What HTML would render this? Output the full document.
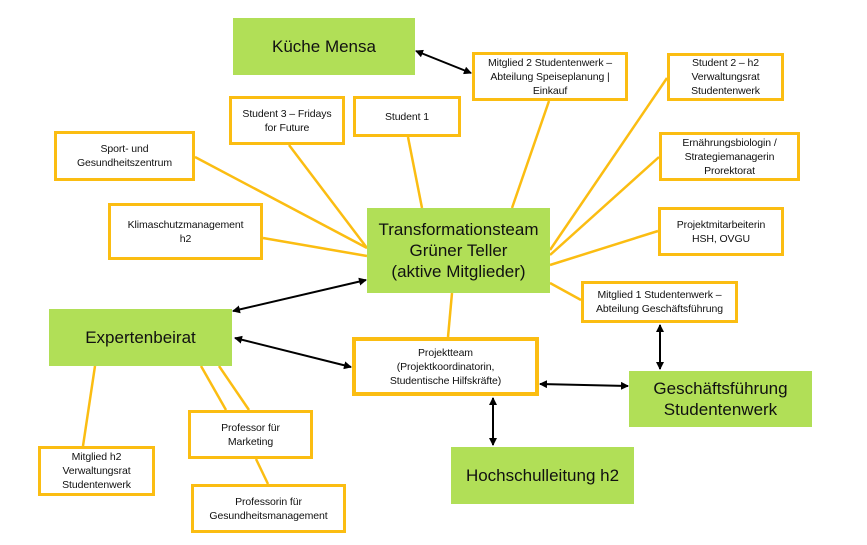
<!DOCTYPE html>
<html><head><meta charset="utf-8"><style>
body{margin:0;background:#fff;}
.b{position:absolute;display:flex;align-items:center;justify-content:center;text-align:center;font-family:"Liberation Sans",sans-serif;box-sizing:border-box;color:#111;}
.g{background:#b1df57;font-size:17px;line-height:21px;}
.y{background:#fff;border:3px solid #fbbd12;font-size:10.5px;line-height:14px;letter-spacing:-0.1px;}
</style></head><body>
<div style="position:relative;width:867px;height:545px;overflow:hidden">
<svg width="867" height="545" style="position:absolute;left:0;top:0">
<defs><marker id="a" markerWidth="8" markerHeight="8" refX="7" refY="4" orient="auto-start-reverse" markerUnits="userSpaceOnUse"><path d="M0,0 L8,4 L0,8 z" fill="#000"/></marker></defs>
<g stroke="#fbbd12" stroke-width="2.5" fill="none">
<line x1="195" y1="157" x2="367" y2="248"/>
<line x1="289" y1="145" x2="367" y2="248"/>
<line x1="263" y1="238" x2="367" y2="256"/>
<line x1="408" y1="137" x2="422" y2="208"/>
<line x1="549" y1="101" x2="512" y2="208"/>
<line x1="667" y1="78" x2="550" y2="250"/>
<line x1="659" y1="157" x2="550" y2="255"/>
<line x1="658" y1="231" x2="550" y2="265"/>
<line x1="550" y1="283" x2="581" y2="300"/>
<line x1="452" y1="293" x2="448" y2="337"/>
<line x1="95" y1="366" x2="83" y2="446"/>
<line x1="201" y1="366" x2="226" y2="410"/>
<line x1="219" y1="366" x2="249" y2="410"/>
<line x1="256" y1="459" x2="268" y2="484"/>
</g>
<g stroke="#000" stroke-width="2" marker-start="url(#a)" marker-end="url(#a)">
<line x1="416" y1="51" x2="471" y2="73"/>
<line x1="366" y1="280" x2="233" y2="311"/>
<line x1="235" y1="338" x2="351" y2="367"/>
<line x1="540" y1="384" x2="628" y2="386"/>
<line x1="660" y1="325" x2="660" y2="369"/>
<line x1="493" y1="398" x2="493" y2="445"/>
</g>
</svg>
<div class="b g" style="left:233px;top:18px;width:182px;height:57px">Küche Mensa</div>
<div class="b y" style="left:472px;top:52px;width:156px;height:49px">Mitglied 2 Studentenwerk –<br>Abteilung Speiseplanung |<br>Einkauf</div>
<div class="b y" style="left:667px;top:53px;width:117px;height:48px">Student 2 – h2<br>Verwaltungsrat<br>Studentenwerk</div>
<div class="b y" style="left:659px;top:132px;width:141px;height:49px">Ernährungsbiologin /<br>Strategiemanagerin<br>Prorektorat</div>
<div class="b y" style="left:658px;top:207px;width:126px;height:49px">Projektmitarbeiterin<br>HSH, OVGU</div>
<div class="b y" style="left:581px;top:281px;width:157px;height:42px">Mitglied 1 Studentenwerk –<br>Abteilung Geschäftsführung</div>
<div class="b g" style="left:629px;top:371px;width:183px;height:56px">Geschäftsführung<br>Studentenwerk</div>
<div class="b g" style="left:451px;top:447px;width:183px;height:57px">Hochschulleitung h2</div>
<div class="b y" style="left:352px;top:337px;width:187px;height:59px;border-width:4px">Projektteam<br>(Projektkoordinatorin,<br>Studentische Hilfskräfte)</div>
<div class="b g" style="left:367px;top:208px;width:183px;height:85px">Transformationsteam<br>Grüner Teller<br>(aktive Mitglieder)</div>
<div class="b g" style="left:49px;top:309px;width:183px;height:57px">Expertenbeirat</div>
<div class="b y" style="left:38px;top:446px;width:117px;height:50px">Mitglied h2<br>Verwaltungsrat<br>Studentenwerk</div>
<div class="b y" style="left:188px;top:410px;width:125px;height:49px">Professor für<br>Marketing</div>
<div class="b y" style="left:191px;top:484px;width:155px;height:49px">Professorin für<br>Gesundheitsmanagement</div>
<div class="b y" style="left:229px;top:96px;width:116px;height:49px">Student 3 – Fridays<br>for Future</div>
<div class="b y" style="left:353px;top:96px;width:108px;height:41px">Student 1</div>
<div class="b y" style="left:54px;top:131px;width:141px;height:50px">Sport- und<br>Gesundheitszentrum</div>
<div class="b y" style="left:108px;top:203px;width:155px;height:57px">Klimaschutzmanagement<br>h2</div>
</div>
</body></html>
